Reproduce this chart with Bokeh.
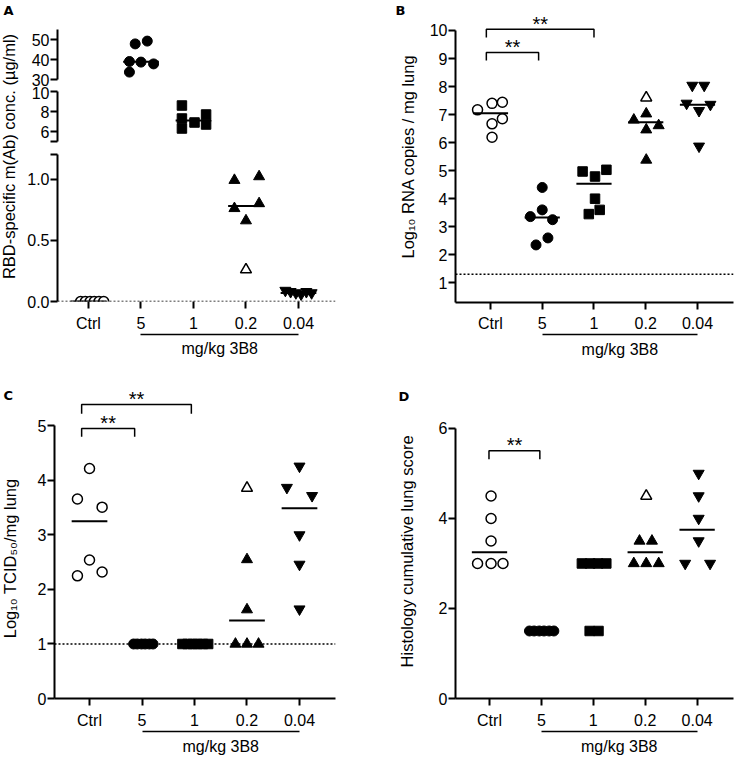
import math
from bokeh.plotting import figure
from bokeh.models import Range1d, FixedTicker, LinearAxis, Span, Label, NumeralTickFormatter
from bokeh.layouts import row, column
from bokeh.embed import file_html
from bokeh.resources import INLINE
from bokeh.core.properties import value

FONT = "Liberation Sans"
LETTER_FONT = "DejaVu Sans"

# ---------------- data ----------------
CATEGORIES = ["Ctrl", "5", "1", "0.2", "0.04"]
DOSE_LABEL = "mg/kg 3B8"

A_TITLE = "RBD-specific m(Ab) conc. (µg/ml)"
A_CTRL = [0.0, 0.0, 0.0, 0.0, 0.0, 0.0]
A_5 = [47.8, 49.2, 39.0, 38.7, 37.8, 33.7]
A_1 = [8.6, 7.3, 6.3, 6.9, 7.7, 6.7]
A_02 = [0.99, 1.02, 0.76, 0.80, 0.66]
A_02_OPEN = [0.26]
A_004 = [0.09, 0.08, 0.07, 0.06, 0.08, 0.07]
A_MEDIAN = [0.0, 38.9, 7.1, 0.78, 0.07]
A_LOD = 0.0

B_TITLE = "Log\u2081\u2080 RNA copies / mg lung"
B_CTRL = [7.17, 7.40, 7.44, 6.85, 6.67, 6.19]
B_5 = [4.40, 3.60, 3.36, 3.25, 2.60, 2.35]
B_1 = [4.97, 4.79, 5.03, 4.00, 3.45, 3.60]
B_02 = [6.81, 7.03, 6.61, 6.46, 5.38]
B_02_OPEN = [7.60]
B_004 = [8.04, 8.04, 7.40, 7.14, 7.36, 5.87]
B_MEDIAN = [7.05, 3.33, 4.53, 6.73, 7.35]
B_LOD = 1.3

C_TITLE = "Log\u2081\u2080 TCID\u2085\u2080/mg lung"
C_CTRL = [4.22, 3.66, 3.51, 2.54, 2.32, 2.25]
C_5 = [1.0, 1.0, 1.0, 1.0, 1.0, 1.0]
C_1 = [1.0, 1.0, 1.0, 1.0, 1.0, 1.0]
C_02 = [1.0, 1.0, 1.0, 1.63, 2.55]
C_02_OPEN = [3.86]
C_004 = [4.26, 3.87, 3.72, 3.00, 2.46, 1.64]
C_MEDIAN = [3.25, None, None, 1.43, 3.49]
C_LOD = 1.0

D_TITLE = "Histology cumulative lung score"
D_CTRL = [4.5, 4.0, 3.5, 3.0, 3.0, 3.0]
D_5 = [1.5, 1.5, 1.5, 1.5, 1.5, 1.5]
D_1 = [3.0, 3.0, 3.0, 3.0, 1.5, 1.5]
D_02 = [3.5, 3.5, 3.0, 3.0, 3.0]
D_02_OPEN = [4.5]
D_004 = [5.0, 4.5, 4.0, 3.5, 3.0, 3.0]
D_MEDIAN = [3.25, None, None, 3.25, 3.75]

SIG_B = [("Ctrl", "1", "**"), ("Ctrl", "5", "**")]
SIG_C = [("Ctrl", "1", "**"), ("Ctrl", "5", "**")]
SIG_D = [("Ctrl", "5", "**")]

# ---------------- layout: horizontal spread of points inside a group ----------------
JIT_A = [[-0.15, -0.06, 0.03, 0.11, 0.20, 0.29],
         [-0.11, 0.12, -0.22, 0.0, 0.24, -0.22],
         [-0.22, -0.22, -0.22, 0.02, 0.24, 0.24],
         [-0.22, 0.25, -0.22, 0.25, 0.0],
         [-0.25, -0.15, -0.05, 0.05, 0.15, 0.25]]
JIT_A_OPEN = [0.0]
JIT_B = [[-0.25, 0.03, 0.23, 0.23, 0.03, 0.03],
         [0.0, 0.0, -0.23, 0.20, 0.11, -0.12],
         [-0.22, 0.02, 0.24, 0.02, -0.10, 0.11],
         [-0.23, 0.01, 0.25, 0.01, 0.01],
         [-0.10, 0.13, -0.21, 0.03, 0.25, 0.03]]
JIT_B_OPEN = [0.01]
JIT_C = [[0.0, -0.23, 0.24, 0.0, 0.24, -0.23],
         [-0.16, -0.09, -0.01, 0.06, 0.14, 0.21],
         [-0.23, -0.13, -0.03, 0.06, 0.16, 0.26],
         [-0.22, 0.0, 0.22, 0.0, 0.0],
         [0.0, -0.24, 0.24, 0.0, 0.0, 0.0]]
JIT_C_OPEN = [0.0]
JIT_D = [[0.03, 0.03, 0.03, -0.23, 0.03, 0.26],
         [-0.23, -0.14, -0.04, 0.05, 0.15, 0.24],
         [-0.22, -0.06, 0.09, 0.25, -0.07, 0.10],
         [-0.11, 0.13, -0.22, 0.02, 0.26],
         [0.03, 0.03, 0.03, 0.03, -0.23, 0.25]]
JIT_D_OPEN = [0.02]

# bracket geometry: (left trim, right trim, top, leg length)
BR_B = [(-0.08, 0.0, 10.04, 0.29), (-0.08, -0.07, 9.215, 0.285)]
BR_C = [(-0.15, -0.06, 5.395, 0.17), (-0.15, -0.14, 4.953, 0.153)]
BR_D = [(-0.01, -0.03, 5.503, 0.19)]

MARKERS = ["circle", "circle", "square", "triangle", "inverted_triangle"]
FILLED = [False, True, True, True, True]
SIZES = [10, 10, 9.5, 11, 11]
MED_HALF = 0.34

# figure geometry (px): width, height, borders (l, r, t, b), ranges
SPEC_ATOP = dict(w=346, h=86, b=(33, 35, 29, 7), xr=(-0.590, 4.705), yr=(30, 55))
SPEC_AMID = dict(w=346, h=61, b=(33, 35, 5, 6), xr=(-0.590, 4.705), yr=(5, 10))
SPEC_ABOT = dict(w=346, h=218, b=(33, 35, 7, 64), xr=(-0.590, 4.705), yr=(0, 1.2))
SPEC_B = dict(w=310, h=365, b=(29, 3, 0, 63), xr=(-0.676, 4.696), yr=(0.296, 11.07))
SPEC_C = dict(w=346, h=392, b=(30, 35, 20, 57), xr=(-0.667, 4.686), yr=(0, 5.742))
SPEC_D = dict(w=310, h=392, b=(29, 3, 20, 57), xr=(-0.655, 4.701), yr=(0, 6.954))


def make_fig(spec, xaxis=True, yaxis=True):
    l, r, t, b = spec["b"]
    p = figure(width=spec["w"], height=spec["h"],
               x_range=Range1d(*spec["xr"]), y_range=Range1d(*spec["yr"]),
               output_backend="svg", toolbar_location=None, title=None,
               x_axis_location="below" if xaxis else None,
               y_axis_location="left" if yaxis else None,
               min_border_left=l, min_border_right=r, min_border_top=t, min_border_bottom=b,
               outline_line_color=None, background_fill_color="white",
               border_fill_color="white")
    p.xgrid.grid_line_color = None
    p.ygrid.grid_line_color = None
    return p


def text_fig(x0, x1, y0, y1, top, bottom):
    """Blank strip beside a panel; its frame spans page rows y0+top .. y1-bottom and
    its data coordinates equal page pixels (used for titles and panel letters)."""
    p = figure(width=x1 - x0, height=y1 - y0, x_range=Range1d(x0, x1),
               y_range=Range1d(y1 - bottom, y0 + top), output_backend="svg",
               toolbar_location=None, title=None, x_axis_location=None,
               y_axis_location=None, min_border_left=0, min_border_right=0,
               min_border_top=top, min_border_bottom=bottom,
               outline_line_color=None, background_fill_color="white",
               border_fill_color="white")
    p.xgrid.grid_line_color = None
    p.ygrid.grid_line_color = None
    return p


def style_axis(ax, standoff, line=True):
    ax.axis_line_color = "black" if line else None
    ax.axis_line_width = 2
    ax.major_tick_line_color = "black"
    ax.major_tick_line_width = 2
    ax.major_tick_out = 7
    ax.major_tick_in = 0
    ax.minor_tick_line_color = None
    ax.minor_tick_out = 0
    ax.minor_tick_in = 0
    ax.major_label_standoff = standoff
    ax.major_label_text_font = FONT
    ax.major_label_text_font_size = "16px"
    ax.major_label_text_color = "black"


def setup_x(p, s1, s2, axis_line=True):
    ax = p.xaxis[0]
    ax.ticker = FixedTicker(ticks=list(range(len(CATEGORIES))))
    ax.major_label_overrides = {i: c for i, c in enumerate(CATEGORIES)}
    style_axis(ax, s1, axis_line)
    mid = (1 + len(CATEGORIES) - 1) / 2
    ax2 = LinearAxis(bounds=(1, len(CATEGORIES) - 1), ticker=FixedTicker(ticks=[mid]),
                     major_label_overrides={mid: DOSE_LABEL})
    style_axis(ax2, s2)
    ax2.axis_line_width = 1.5
    ax2.major_tick_line_color = None
    ax2.major_tick_out = 0
    p.add_layout(ax2, "below")


def setup_y(p, ticks, overrides=None, bounds="auto", fmt=None):
    ax = p.yaxis[0]
    ax.ticker = FixedTicker(ticks=ticks)
    if fmt:
        ax.formatter = NumeralTickFormatter(format=fmt)
    if overrides:
        ax.major_label_overrides = overrides
    ax.bounds = bounds
    style_axis(ax, 1)


def draw_points(p, groups, jit, open02, jit_open):
    for i, (vals, dxs) in enumerate(zip(groups, jit)):
        p.scatter([i + d for d in dxs], vals, marker=MARKERS[i], size=SIZES[i],
                  fill_color="black" if FILLED[i] else "white", line_color="black",
                  line_width=1 if FILLED[i] else 1.5)
    p.scatter([3 + d for d in jit_open], open02, marker="triangle", size=SIZES[3],
              fill_color="white", line_color="black", line_width=1.5)


def draw_medians(p, med):
    idx = [i for i, m in enumerate(med) if m is not None]
    p.segment(x0=[i - MED_HALF for i in idx], y0=[med[i] for i in idx],
              x1=[i + MED_HALF for i in idx], y1=[med[i] for i in idx],
              line_color="black", line_width=2)


def draw_brackets(p, sigs, geom):
    xs, ys, tx, ty, tt = [], [], [], [], []
    for (a, b, mark), (lt, rt, top, leg) in zip(sigs, geom):
        x0 = CATEGORIES.index(a) + lt
        x1 = CATEGORIES.index(b) + rt
        xs.append([x0, x0, x1, x1])
        ys.append([top - leg, top, top, top - leg])
        tx.append((x0 + x1) / 2)
        ty.append(top)
        tt.append(mark)
    p.multi_line(xs, ys, line_color="black", line_width=1.5)
    p.text(tx, ty, text=tt, text_font=value(FONT), text_font_size=value("20px"),
           text_align="center", text_baseline="middle", y_offset=-5.5,
           text_color="black")


def add_label(p, x, y, text, size, bold=False, angle=0.0, align="left", font=FONT):
    p.add_layout(Label(x=x, y=y, text=text, text_font=font, text_font_size=size,
                       text_font_style="bold" if bold else "normal", angle=angle,
                       text_align=align, text_baseline="middle", text_color="black"))


def lod(p, y):
    p.add_layout(Span(location=y, dimension="width", line_color="black",
                      line_width=1.5, line_dash="2 2"))


# ---------------- Panel A (broken axis: three stacked segments) ----------------
A_GROUPS = [A_CTRL, A_5, A_1, A_02, A_004]
a_top = make_fig(SPEC_ATOP, xaxis=False)
a_mid = make_fig(SPEC_AMID, xaxis=False)
a_bot = make_fig(SPEC_ABOT)
setup_y(a_top, [30, 40, 50])
setup_y(a_mid, [5, 6, 8, 10], {5: ""})
setup_y(a_bot, [0, 0.5, 1.0, 1.2], {1.2: ""}, fmt="0.0")
setup_x(a_bot, 6, 5, axis_line=False)
lod(a_bot, A_LOD)
for p in (a_top, a_mid, a_bot):
    draw_points(p, A_GROUPS, JIT_A, A_02_OPEN, JIT_A_OPEN)
    draw_medians(p, A_MEDIAN)

a_text = text_fig(0, 24, 0, 365, 0, 63)
add_label(a_text, 3, 10, "A", "13px", bold=True, font=LETTER_FONT)
add_label(a_text, 8, 156, A_TITLE, "16.5px", angle=math.pi / 2, align="center")

# ---------------- Panel B ----------------
b = make_fig(SPEC_B)
setup_y(b, list(range(1, 11)), bounds=(SPEC_B["yr"][0], 10))
setup_x(b, 5, 6)
lod(b, B_LOD)
draw_points(b, [B_CTRL, B_5, B_1, B_02, B_004], JIT_B, B_02_OPEN, JIT_B_OPEN)
draw_medians(b, B_MEDIAN)
draw_brackets(b, SIG_B, BR_B)

b_text = text_fig(370, 426, 0, 365, 0, 63)
add_label(b_text, 395, 10, "B", "13px", bold=True, font=LETTER_FONT)
add_label(b_text, 407.5, 156, B_TITLE, "16.5px", angle=math.pi / 2, align="center")

# ---------------- Panel C ----------------
c = make_fig(SPEC_C)
setup_y(c, [0, 1, 2, 3, 4, 5], bounds=(0, 5))
setup_x(c, 6, 6)
lod(c, C_LOD)
draw_points(c, [C_CTRL, C_5, C_1, C_02, C_004], JIT_C, C_02_OPEN, JIT_C_OPEN)
draw_medians(c, C_MEDIAN)
draw_brackets(c, SIG_C, BR_C)

c_text = text_fig(0, 24, 365, 757, 20, 57)
add_label(c_text, 3, 395, "C", "13px", bold=True, font=LETTER_FONT)
add_label(c_text, 9, 559, C_TITLE, "16.5px", angle=math.pi / 2, align="center")

# ---------------- Panel D ----------------
d = make_fig(SPEC_D)
setup_y(d, [0, 2, 4, 6], bounds=(0, 6))
setup_x(d, 6, 6)
draw_points(d, [D_CTRL, D_5, D_1, D_02, D_004], JIT_D, D_02_OPEN, JIT_D_OPEN)
draw_medians(d, D_MEDIAN)
draw_brackets(d, SIG_D, BR_D)

d_text = text_fig(370, 426, 365, 757, 20, 57)
add_label(d_text, 398, 396, "D", "13px", bold=True, font=LETTER_FONT)
add_label(d_text, 406, 552, D_TITLE, "16.5px", angle=math.pi / 2, align="center")

layout = column(row(a_text, column(a_top, a_mid, a_bot), b_text, b),
                row(c_text, c, d_text, d))

open("out.html", "w").write(file_html(layout, INLINE))
